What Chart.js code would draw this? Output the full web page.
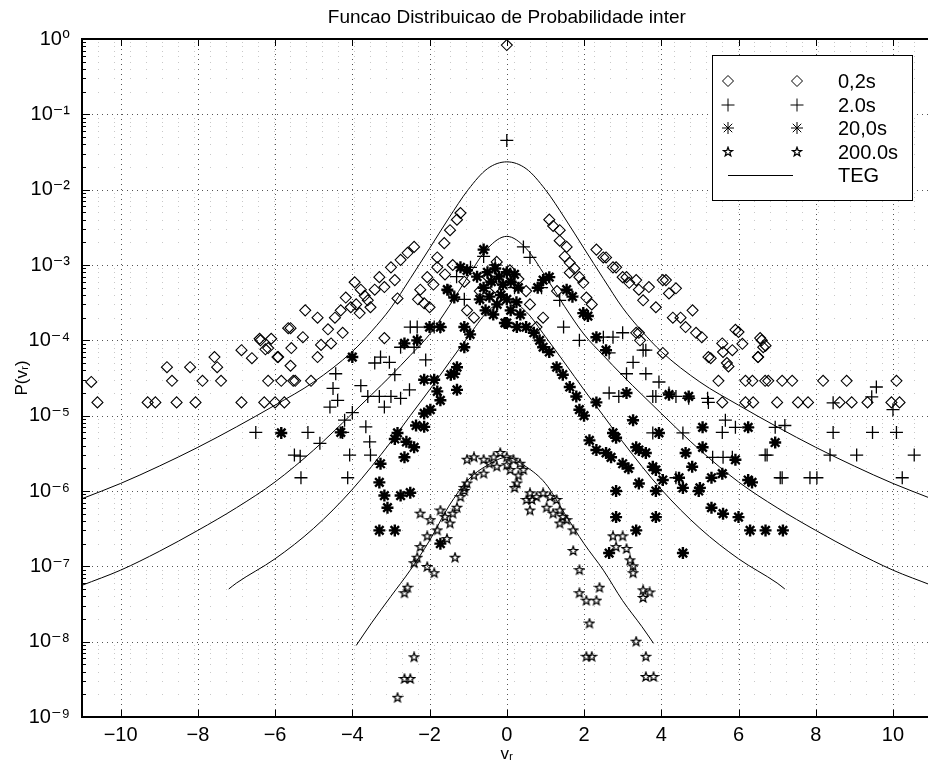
<!DOCTYPE html>
<html>
<head>
<meta charset="utf-8">
<title>Funcao Distribuicao de Probabilidade inter</title>
<script src="https://cdn.jsdelivr.net/npm/chart.js@4.4.1/dist/chart.umd.min.js"></script>
<style>
  html, body { margin: 0; padding: 0; background: #fff; overflow: hidden; }
  #wrap { width: 940px; height: 766px; }
</style>
</head>
<body>
<div id="wrap"><canvas id="chart" width="940" height="766"></canvas></div>
<script>
const FONT = "'Liberation Sans', Arial, 'DejaVu Sans', sans-serif";

const titleText = 'Funcao Distribuicao de Probabilidade inter';
const xTicks = [-10, -8, -6, -4, -2, 0, 2, 4, 6, 8, 10];
const yTicks = [1e-9, 1e-8, 1e-7, 1e-6, 1e-5, 1e-4, 1e-3, 1e-2, 1e-1, 1];
const yTickLabels = ['10⁻⁹', '10⁻⁸', '10⁻⁷', '10⁻⁶', '10⁻⁵', '10⁻⁴', '10⁻³', '10⁻²', '10⁻¹', '10⁰'];
const legendLabels = ['0,2s', '2.0s', '20,0s', '200.0s', 'TEG'];

const pts02 = [
  [-10.76,2.8e-5],[-10.6,1.5e-5],[-9.3,1.5e-5],[-9.1,1.5e-5],[-8.8,4.4e-5],[-8.67,2.9e-5],[-8.55,1.5e-5],[-8.2,4.4e-5],[-8.06,1.5e-5],[-7.88,2.9e-5],
  [-7.57,6e-5],[-7.5,4.4e-5],[-7.4,2.9e-5],[-6.87,1.5e-5],[-6.87,7.4e-5],[-6.6,5.8e-5],[-6.4,1.05e-4],[-6.25,7.6e-5],[-6.18,2.9e-5],[-6.28,1.5e-5],
  [-6.1,1.05e-4],[-6.0,1.5e-5],[-5.94,6e-5],[-5.84,2.9e-5],[-5.76,1.5e-5],[-5.6,1.45e-4],[-5.58,7.9e-5],[-5.6,4.6e-5],[-5.53,2.9e-5],
  [-6.38,1.0e-4],[-6.18,7.9e-5],[-5.92,6e-5],[-5.66,1.45e-4],[-5.48,2.9e-5],[-5.22,2.5e-4],[-5.28,1.1e-4],[-5.07,2.9e-5],[-4.9,2.0e-4],[-4.81,8.7e-5],
  [-4.9,6e-5],[-4.63,1.4e-4],[-4.45,2.0e-4],[-4.55,9.1e-5],[-4.25,1.26e-4],[-4.17,3.7e-4],[-4.04,2.75e-4],[-3.94,5.9e-4],[-3.78,4.7e-4],[-3.81,2.3e-4],
  [-3.6,3.4e-4],[-3.42,4.7e-4],[-3.3,6.9e-4],[-3.53,2.75e-4],[-3.17,5.1e-4],[-3.0,9.3e-4],[-2.9,6.3e-4],[-2.83,3.6e-4],[-2.75,1.17e-3],[-2.57,1.45e-3],
  [-2.4,1.74e-3],[-3.17,1.07e-4],[-3.68,3.9e-4],[-4.3,2.5e-4],[-3.9,3.0e-4],
  [-2.24,4.7e-4],[-2.06,6.9e-4],[-2.14,3.1e-4],[-2.0,2.75e-4],[-1.8,1.26e-3],[-1.62,1.95e-3],[-1.47,2.9e-3],[-1.29,4.0e-3],[-1.2,4.9e-3],[-1.03,2.5e-4],
  [-0.85,2.0e-4],[-1.8,9.3e-4],[-0.26,1.1e-3],[0.08,8.5e-4],[-2.3,3.5e-4],[-1.9,5.5e-4],[-1.6,7.5e-4],[-1.4,1.0e-3],[-1.1,6e-4],[-0.7,4.5e-4],
  [-0.5,7e-4],[-0.3,5e-4],[0.3,6.5e-4],[0.5,4.5e-4],
  [0,0.83],
  [0.94,2.0e-4],[0.77,1.5e-4],[1.1,4.0e-3],[1.37,2.9e-3],[1.55,1.74e-3],[1.63,1.07e-3],[1.88,6.9e-4],[2.06,3.7e-4],[1.37,2.1e-3],[1.63,7.9e-4],
  [1.98,5.8e-4],[1.2,3.3e-3],[1.5,1.3e-3],[1.75,9e-4],[2.2,3.0e-4],[0.6,3.0e-4],[1.3,4.5e-4],
  [2.32,1.6e-3],[2.57,1.26e-3],[2.83,9.3e-4],[3.1,6.9e-4],[3.35,6.3e-4],[3.68,5.1e-4],[4.04,6.3e-4],[3.53,3.4e-4],[3.86,2.75e-4],[4.2,4.2e-4],
  [3.42,1.26e-4],[4.04,6.8e-5],[2.5,1.26e-3],[2.75,9.3e-4],[3.0,6.9e-4],[3.17,5.8e-4],[3.42,4.7e-4],[4.12,6.3e-4],[4.38,4.9e-4],[4.3,2.0e-4],
  [4.5,2.0e-4],[4.81,2.5e-4],[4.63,1.5e-4],[4.9,1.26e-4],[5.05,1.1e-4],[5.22,6e-5],[5.58,9.1e-5],[5.84,7.4e-5],[5.92,1.38e-4],[6.1,9.0e-5],
  [6.5,6e-5],[6.6,1.0e-4],[6.7,8.5e-5],[5.74,4.5e-5],[3.35,1.26e-4],[3.45,1.0e-4],[6.0,1.29e-4],[6.56,1.07e-4],[6.64,8.1e-5],[6.51,6e-5],
  [5.28,5.8e-5],[5.6,7e-5],[5.7,5e-5],
  [5.48,2.9e-5],[6.18,2.9e-5],[6.36,2.9e-5],[6.69,2.9e-5],[6.77,2.9e-5],[7.13,2.9e-5],[7.39,2.9e-5],[8.19,2.9e-5],[8.8,2.9e-5],[10.09,2.9e-5],
  [5.58,1.5e-5],[6.18,1.5e-5],[6.38,1.5e-5],[7.0,1.5e-5],[7.54,1.5e-5],[7.8,1.5e-5],[8.62,1.5e-5],[8.93,1.5e-5],[9.34,1.5e-5],[9.96,1.5e-5],[10.17,1.5e-5]
];

const pts2 = [
  [0,4.5e-2],
  [-5.15,6e-6],[-5.35,2.9e-6],[-4.84,4.3e-6],[-4.25,6e-6],[-5.33,1.5e-6],[-4.07,3.0e-6],[-4.12,1.5e-6],[-3.53,3.0e-6],[-3.55,4.5e-6],[-3.65,7.1e-6],
  [-4.43,3.6e-5],[-4.5,2.3e-5],[-4.38,1.6e-5],[-4.58,1.3e-5],[-4.2,8.7e-6],[-4.0,1.1e-5],[-3.78,2.5e-5],[-3.6,1.8e-5],[-3.42,5e-5],[-3.27,6e-5],
  [-3.04,5.1e-5],[-3.3,1.8e-5],[-3.0,1.8e-5],[-3.17,1.3e-5],[-2.9,3.5e-5],[-2.75,1.7e-5],[-2.52,2.2e-5],[-2.5,1.5e-4],[-2.4,8.1e-5],[-2.1,5.5e-5],
  [-1.72,1.5e-4],[-1.88,1.5e-4],[-2.75,8.1e-5],[-2.32,1.5e-4],[-6.5,6e-6],[-5.5,3e-6],
  [0.43,1.74e-3],[0.6,1.26e-3],[-0.94,9.3e-4],[-0.6,1.3e-3],[-0.3,1.0e-3],[-1.3,7e-4],[-1.5,4.5e-4],[-1.1,3.5e-4],[0.2,5e-4],[0.9,5e-4],
  [1.37,3.4e-4],[1.47,1.5e-4],[1.88,1.0e-4],[2.65,6.8e-5],[2.75,1.1e-4],[3.0,1.26e-4],[3.53,7.4e-5],[3.27,5.1e-5],[3.1,3.6e-5],[3.6,3.6e-5],
  [2.65,2.0e-5],[2.9,1.8e-5],[3.78,1.8e-5],[3.94,2.8e-5],[4.2,2.0e-5],[4.38,1.8e-5],[4.71,1.7e-5],[5.2,1.7e-5],[5.22,1.5e-5],[5.66,8.7e-6],
  [5.58,6e-6],[5.92,7e-6],[6.95,7e-6],[6.69,3.0e-6],[7.13,1.5e-6],[3.78,5.9e-6],[4.56,5.9e-6],[5.33,2.8e-6],[5.6,2.8e-6],[5.84,2.8e-6],
  [4.38,1.5e-6],[2.5,1.1e-4],[3.6,7.4e-5],[3.86,1.8e-5],[7.2,7.4e-6],[8.45,1.48e-5],[9.45,1.78e-5],[9.57,2.4e-5],[8.45,6e-6],[9.47,6e-6],
  [10.09,6e-6],[6.74,3.0e-6],[8.37,3.0e-6],[9.06,3.0e-6],[10.55,3.0e-6],[7.08,1.5e-6],[7.85,1.5e-6],[8.03,1.5e-6],[10.24,1.5e-6],[10.0,1.2e-5]
];

const pts20 = [
  [-0.6,1.6e-3],[-0.77,7e-4],[-0.6,5e-4],[-0.5,8e-4],[-0.4,6e-4],[-0.3,9e-4],[-0.2,7e-4],[-0.1,5.5e-4],[0,8e-4],[0.1,6e-4],
  [0.2,7.5e-4],[0.3,5e-4],[-0.7,3.5e-4],[-0.55,2.5e-4],[-0.45,3.8e-4],[-0.35,2.2e-4],[-0.25,3e-4],[-0.15,4e-4],[0,3.5e-4],[0.1,2.5e-4],
  [0.25,3.2e-4],[0.35,2.2e-4],[-0.05,1.7e-4],[0,1.7e-4],[0.26,1.5e-4],
  [0.5,1.5e-4],[0.7,1.26e-4],[0.85,1.0e-4],[0.94,8.1e-5],[1.1,7e-5],[1.29,4.4e-5],[1.45,3.5e-5],[1.63,2.4e-5],[1.8,1.8e-5],[1.88,1.2e-5],
  [2.0,1.0e-5],[2.14,4.7e-6],[2.32,3.5e-6],[2.57,3.2e-6],[2.7,2.8e-6],[3.0,2.3e-6],[3.15,2.0e-6],[3.35,3.8e-6],[3.78,2.1e-6],[3.94,5.9e-6],
  [1.55,4.7e-4],[1.7,3.8e-4],[1.1,6.9e-4],[0.94,6.3e-4],[0.8,5e-4],[1.98,2.3e-4],[2.1,2.1e-4],[2.32,1.1e-4],[2.57,7.4e-5],[2.32,1.5e-5],
  [2.75,5.9e-6],[2.83,5.1e-6],[3.1,2.0e-5],[3.27,8.7e-6],[4.71,1.8e-5],[4.2,1.9e-5],[5.07,7e-6],[5.07,3.8e-6],[3.6,3.2e-6],[3.86,1.9e-6],
  [4.63,3.2e-6],[5.58,1.7e-6],[5.92,2.6e-6],[6.25,1.4e-6],[6.95,4.4e-6],[6.25,7e-6],[4.04,1.4e-6],[4.56,1.1e-6],[4.97,1.0e-6],[2.83,1.0e-6],
  [3.42,3.5e-6],[3.86,1.0e-6],[4.46,1.5e-6],[4.8,2.1e-6],[3.42,1.26e-6],[2.83,4.5e-7],[3.86,4.5e-7],[3.35,3.0e-7],[2.65,1.5e-7],[4.56,1.5e-7],
  [5.3,1.5e-6],[6.35,1.3e-6],[5.3,6e-7],[5.6,5e-7],[6.0,4.5e-7],[6.3,3e-7],[6.7,3e-7],[7.15,3e-7],[5.0,1.1e-6],
  [-1.1,1.5e-4],[-0.95,1.2e-4],[-1.1,8.1e-5],[-1.29,4.4e-5],[-1.45,3.5e-5],[-1.88,3.0e-5],[-1.8,2.1e-5],[-1.72,1.6e-5],[-1.98,1.2e-5],[-2.14,3.0e-5],
  [-2.65,9.1e-5],[-2.32,1.0e-4],[-2.0,1.5e-4],[-1.72,1.5e-4],[-1.36,3.7e-4],[-1.2,9.3e-4],[-1.03,8.5e-4],[-1.54,4.7e-4],[-1.29,2.2e-5],[-1.36,3.6e-5],
  [-2.14,1.07e-5],[-2.35,7.4e-6],[-2.83,5.9e-6],[-2.65,2.8e-6],[-2.4,3.8e-6],[-2.14,7.1e-6],[-3.27,2.3e-6],[-3.3,1.3e-6],[-3.17,8.7e-7],[-2.75,8.7e-7],
  [-2.5,9.5e-7],[-3.09,6e-7],[-3.3,3.0e-7],[-2.9,3.0e-7],[-1.72,2.0e-7],[-5.84,5.9e-6],[-4.0,6e-5],[-4.3,6e-6],[-2.6,4.5e-6],[-2.9,4.9e-6]
];

const pts200 = [
  [-1.03,2.6e-6],[-0.85,2.8e-6],[-0.6,2.6e-6],[-0.34,2.8e-6],[-0.17,3.2e-6],[0,2.8e-6],[0.17,2.6e-6],[0.34,2.3e-6],[0.09,1.9e-6],[-0.26,2.1e-6],
  [-0.6,1.7e-6],[-0.85,1.6e-6],[0.43,1.9e-6],[-1.03,1.26e-6],[-1.1,1.0e-6],[-1.2,8.3e-7],[0.26,1.26e-6],[0.2,1.1e-6],[0.6,9.3e-7],[0.51,7.6e-7],
  [0.65,7.6e-7],[0.77,8.3e-7],[0.94,9.3e-7],[1.12,8.3e-7],[1.29,7.6e-7],[1.03,6.0e-7],[1.2,5.0e-7],[1.37,5.5e-7],[1.45,4.5e-7],[1.37,3.7e-7],
  [1.55,4.1e-7],[0.6,5.5e-7],[1.72,3.0e-7],[1.72,1.6e-7],[1.88,8.9e-8],[1.88,4.4e-8],[2.06,3.5e-8],[2.32,3.5e-8],[2.4,5.2e-8],[2.14,1.74e-8],
  [2.06,6.3e-9],[2.2,6.3e-9],[2.75,2.5e-7],[3.0,2.5e-7],[2.83,1.8e-7],[3.1,1.7e-7],[3.19,1.2e-7],[3.27,1.0e-7],[3.27,8.1e-8],[3.53,4.8e-8],
  [3.7,4.5e-8],[3.53,3.8e-8],[3.35,1.0e-8],[3.6,6.3e-9],[3.6,3.4e-9],[3.8,3.4e-9],
  [-1.1,1.1e-6],[-1.29,6.0e-7],[-1.4,5.0e-7],[-1.47,3.7e-7],[-1.72,5.5e-7],[-1.98,4.1e-7],[-2.24,5.0e-7],[-2.06,2.5e-7],[-2.24,1.8e-7],[-2.32,1.3e-7],
  [-2.4,1.1e-7],[-2.06,9.8e-8],[-1.88,8.1e-8],[-1.34,1.3e-7],[-2.57,5.2e-8],[-2.65,4.4e-8],[-2.4,6.2e-9],[-2.65,3.2e-9],[-2.5,3.2e-9],[-2.83,1.8e-9],
  [-1.6,4.5e-7],[-1.8,3.0e-7],[-1.55,2.3e-7],[0,2.2e-6],[-0.45,2.3e-6],[0.3,1.6e-6]
];

// TEG curves
const tegX = [-11,-10,-9,-8,-7,-6,-5,-4,-3.5,-3,-2.5,-2,-1.5,-1,-0.5,0,0.5,1,1.5,2,2.5,3,3.5,4,5,6,7,8,9,10,11];
const teg02 = [7.9e-7,1.26e-6,2.14e-6,3.8e-6,7.1e-6,1.38e-5,2.8e-5,7.1e-5,1.32e-4,2.7e-4,6.6e-4,1.66e-3,4.2e-3,1.0e-2,1.9e-2,2.34e-2,
               1.9e-2,1.0e-2,4.2e-3,1.66e-3,6.6e-4,2.7e-4,1.32e-4,7.1e-5,2.8e-5,1.38e-5,7.1e-6,3.8e-6,2.14e-6,1.26e-6,7.9e-7];
const teg2 = [5.6e-8,8.9e-8,1.58e-7,3.0e-7,6.0e-7,1.32e-6,3.5e-6,1.07e-5,1.9e-5,3.4e-5,6.3e-5,1.2e-4,2.8e-4,7.1e-4,1.66e-3,2.4e-3,
              1.66e-3,7.1e-4,2.8e-4,1.2e-4,6.3e-5,3.4e-5,1.9e-5,1.07e-5,3.5e-6,1.32e-6,6.0e-7,3.0e-7,1.58e-7,8.9e-8,5.6e-8];
const teg20X = [-7.2,-7,-6,-5,-4,-3,-2.5,-2,-1.5,-1,-0.5,0,0.5,1,1.5,2,2.5,3,4,5,6,7,7.2];
const teg20 = [5.0e-8,6.0e-8,1.26e-7,3.2e-7,1.05e-6,4.5e-6,1.0e-5,2.2e-5,5.0e-5,1.12e-4,2.4e-4,3.5e-4,
               2.4e-4,1.12e-4,5.0e-5,2.2e-5,1.0e-5,4.5e-6,1.05e-6,3.2e-7,1.26e-7,6.0e-8,5.0e-8];
const teg200X = [-3.9,-3.5,-3,-2.5,-2,-1.5,-1,-0.5,0,0.5,1,1.5,2,2.5,3,3.5,3.8];
const teg200 = [8.9e-9,1.78e-8,4.0e-8,8.9e-8,2.2e-7,6.3e-7,1.41e-6,2.2e-6,2.8e-6,2.1e-6,1.26e-6,5.0e-7,2.0e-7,8.9e-8,3.5e-8,1.58e-8,9.5e-9];

// pentagram marker (MATLAB 'p')
function makeStar(size, lw) {
  const c = document.createElement('canvas');
  c.width = c.height = size;
  const g = c.getContext('2d');
  const cx = size / 2, cy = size / 2, r = size / 2 - lw, ri = r * 0.42;
  g.beginPath();
  for (let i = 0; i < 10; i++) {
    const a = -Math.PI / 2 + i * Math.PI / 5;
    const rr = i % 2 ? ri : r;
    g.lineTo(cx + rr * Math.cos(a), cy + rr * Math.sin(a));
  }
  g.closePath();
  g.lineWidth = lw;
  g.strokeStyle = '#000';
  g.stroke();
  return c;
}
const starImg = makeStar(12, 1.3);

const markerStyles = [
  { pointStyle: 'rectRot', radius: 5.5, borderWidth: 1.1 },
  { pointStyle: 'cross', radius: 6.5, borderWidth: 1.3 },
  { pointStyle: 'star', radius: 6, borderWidth: 2.4 },
  { pointStyle: starImg, radius: 6, borderWidth: 1 }
];

const toPts = arr => arr.map(([x, y]) => ({ x, y }));
const zip = (xs, ys) => xs.map((x, i) => ({ x, y: ys[i] }));

function markerSet(label, pts, m) {
  return {
    label, data: toPts(pts), showLine: false,
    pointStyle: m.pointStyle, pointRadius: m.radius, pointHoverRadius: m.radius,
    pointBorderWidth: m.borderWidth, borderColor: '#000', backgroundColor: 'rgba(0,0,0,0)'
  };
}
function tegSet(xs, ys) {
  return {
    label: 'TEG', data: zip(xs, ys), showLine: true, pointRadius: 0,
    borderColor: '#000', borderWidth: 1, cubicInterpolationMode: 'monotone', fill: false
  };
}

const datasets = [
  markerSet(legendLabels[0], pts02, markerStyles[0]),
  markerSet(legendLabels[1], pts2, markerStyles[1]),
  markerSet(legendLabels[2], pts20, markerStyles[2]),
  markerSet(legendLabels[3], pts200, markerStyles[3]),
  tegSet(tegX, teg02),
  tegSet(tegX, teg2),
  tegSet(teg20X, teg20),
  tegSet(teg200X, teg200)
];

function line(ctx, x1, y1, x2, y2) {
  ctx.beginPath(); ctx.moveTo(x1, y1); ctx.lineTo(x2, y2); ctx.stroke();
}

function drawMarker(ctx, m, x, y) {
  if (Chart.helpers && Chart.helpers.drawPoint) {
    Chart.helpers.drawPoint(ctx, { pointStyle: m.pointStyle, rotation: 0, radius: m.radius, borderWidth: m.borderWidth }, x, y);
  }
}

const matlabFrame = {
  id: 'matlabFrame',
  beforeDatasetsDraw(chart) {
    const { ctx, chartArea: a, scales: { x, y } } = chart;
    ctx.save();
    ctx.lineWidth = 1;
    // minor log grid, very sparse dots
    ctx.strokeStyle = '#c8c8c8';
    ctx.setLineDash([1, 15]);
    for (let k = -9; k < 0; k++) {
      for (let m = 2; m <= 9; m++) {
        const py = Math.round(y.getPixelForValue(m * Math.pow(10, k))) + 0.5;
        line(ctx, a.left, py, a.right, py);
      }
    }
    // major grid
    ctx.strokeStyle = '#555';
    ctx.setLineDash([1, 4]);
    xTicks.forEach(v => {
      const px = Math.round(x.getPixelForValue(v)) + 0.5;
      line(ctx, px, a.top, px, a.bottom);
    });
    yTicks.forEach(v => {
      const py = Math.round(y.getPixelForValue(v)) + 0.5;
      line(ctx, a.left, py, a.right, py);
    });
    ctx.restore();
  },
  afterDatasetsDraw(chart) {
    const { ctx, chartArea: a, scales: { x, y } } = chart;
    ctx.save();
    ctx.strokeStyle = '#000';
    ctx.setLineDash([]);
    // inward tick marks
    ctx.lineWidth = 1;
    xTicks.forEach(v => {
      const px = Math.round(x.getPixelForValue(v)) + 0.5;
      line(ctx, px, a.bottom, px, a.bottom - 7);
      line(ctx, px, a.top, px, a.top + 7);
    });
    yTicks.forEach(v => {
      const py = Math.round(y.getPixelForValue(v)) + 0.5;
      line(ctx, a.left, py, a.left + 8, py);
    });
    for (let k = -9; k < 0; k++) {
      for (let m = 2; m <= 9; m++) {
        const py = Math.round(y.getPixelForValue(m * Math.pow(10, k))) + 0.5;
        line(ctx, a.left, py, a.left + 4, py);
      }
    }
    // axes box
    ctx.lineWidth = 2;
    ctx.strokeRect(a.left, a.top, a.right - a.left, a.bottom - a.top);

    // title
    ctx.fillStyle = '#000';
    ctx.font = '19px ' + FONT;
    ctx.textAlign = 'center';
    ctx.textBaseline = 'middle';
    ctx.fillText(titleText, (a.left + a.right) / 2, 18);

    // legend box
    const L = { left: 712, top: 55, right: 912, bottom: 200 };
    ctx.fillStyle = '#fff';
    ctx.fillRect(L.left, L.top, L.right - L.left, L.bottom - L.top);
    ctx.lineWidth = 1;
    ctx.strokeRect(L.left + 0.5, L.top + 0.5, L.right - L.left, L.bottom - L.top);
    const rows = [81, 105, 128, 152, 175];
    ctx.strokeStyle = '#000';
    ctx.fillStyle = 'rgba(0,0,0,0)';
    markerStyles.forEach((m, i) => {
      drawMarker(ctx, m, 728, rows[i]);
      drawMarker(ctx, m, 797, rows[i]);
    });
    ctx.lineWidth = 1;
    line(ctx, 728, rows[4] + 0.5, 793, rows[4] + 0.5);
    ctx.fillStyle = '#000';
    ctx.font = '20px ' + FONT;
    ctx.textAlign = 'left';
    ctx.textBaseline = 'middle';
    legendLabels.forEach((t, i) => ctx.fillText(t, 838, rows[i] + 1));
    ctx.restore();
  }
};

const ctx = document.getElementById('chart').getContext('2d');
new Chart(ctx, {
  type: 'scatter',
  data: { datasets },
  options: {
    responsive: false,
    animation: false,
    devicePixelRatio: 1,
    events: [],
    layout: { padding: { top: 39, right: 3, left: 0, bottom: 0 } },
    plugins: {
      legend: { display: false },
      tooltip: { enabled: false },
      title: { display: false }
    },
    scales: {
      x: {
        type: 'linear', min: -11, max: 11,
        afterBuildTicks: s => { s.ticks = xTicks.map(v => ({ value: v })); },
        afterFit: s => { s.height = 49; },
        grid: { display: false, drawTicks: false },
        border: { display: false },
        ticks: {
          color: '#000', font: { family: FONT, size: 20 }, padding: 6,
          maxRotation: 0, autoSkip: false,
          callback: v => (v < 0 ? '\u2212' + Math.abs(v) : String(v))
        },
        title: { display: true, text: 'vᵣ', color: '#000', font: { family: FONT, size: 17 }, padding: { top: 0, bottom: 1 } }
      },
      y: {
        type: 'logarithmic', min: 1e-9, max: 1,
        afterBuildTicks: s => { s.ticks = yTicks.map(v => ({ value: v, major: true })); },
        afterFit: s => { s.width = 82; },
        grid: { display: false, drawTicks: false },
        border: { display: false },
        ticks: {
          color: '#000', font: { family: FONT, size: 20 }, padding: 12, autoSkip: false,
          callback: (v, i) => yTickLabels[i]
        },
        title: { display: true, text: 'P(vᵣ)', color: '#000', font: { family: FONT, size: 17 }, padding: { top: 12, bottom: 0 } }
      }
    }
  },
  plugins: [matlabFrame]
});
</script>
</body>
</html>
